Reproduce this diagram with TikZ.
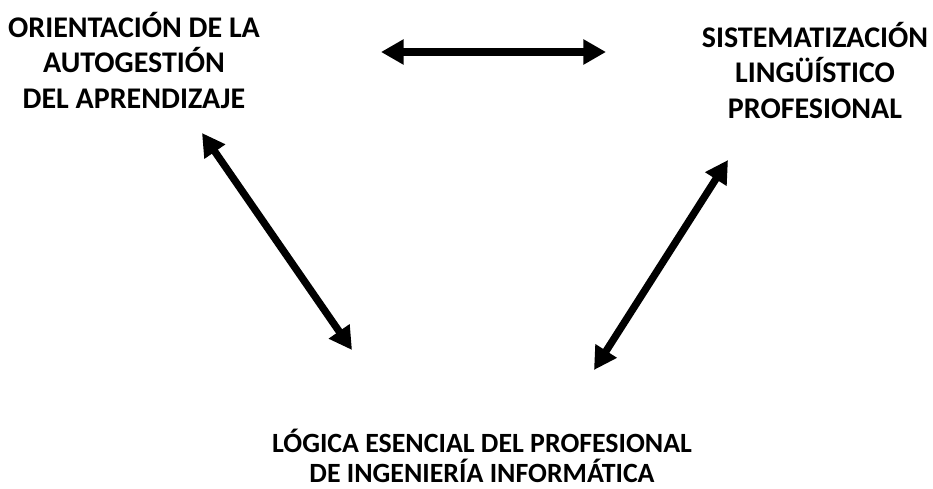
\documentclass[tikz,border=0pt]{standalone}
\usepackage{fontspec}
\setmainfont{Carlito}
\usetikzlibrary{arrows.meta}
\begin{document}
\begin{tikzpicture}[x=0.75pt,y=-0.75pt,>={Triangle[length=17pt,width=18pt]},
  title/.style={font=\bfseries\fontsize{22.5}{26.5}\selectfont,align=center,inner sep=0pt,anchor=base},
  link/.style={<->,line width=5.5pt}]
\useasboundingbox (0,0) rectangle (933,489);

\node[title] (orient) at (134,108) {ORIENTACIÓN DE LA\\AUTOGESTIÓN\\DEL APRENDIZAJE};
\node[title] (sistem) at (815,118) {SISTEMATIZACIÓN\\LINGÜÍSTICO\\PROFESIONAL};
\node[title,font=\bfseries\fontsize{20.9}{22.5}\selectfont] (logica) at (482,482) {LÓGICA ESENCIAL DEL PROFESIONAL\\DE INGENIERÍA INFORMÁTICA};

\coordinate (top1) at (381,52);
\coordinate (top2) at (606,52);
\coordinate (left1) at (202,133);
\coordinate (left2) at (352,350);
\coordinate (right1) at (728,160);
\coordinate (right2) at (594,370);

\draw[link] (top1) -- (top2);
\draw[link] (left1) -- (left2);
\draw[link] (right1) -- (right2);
\end{tikzpicture}
\end{document}
